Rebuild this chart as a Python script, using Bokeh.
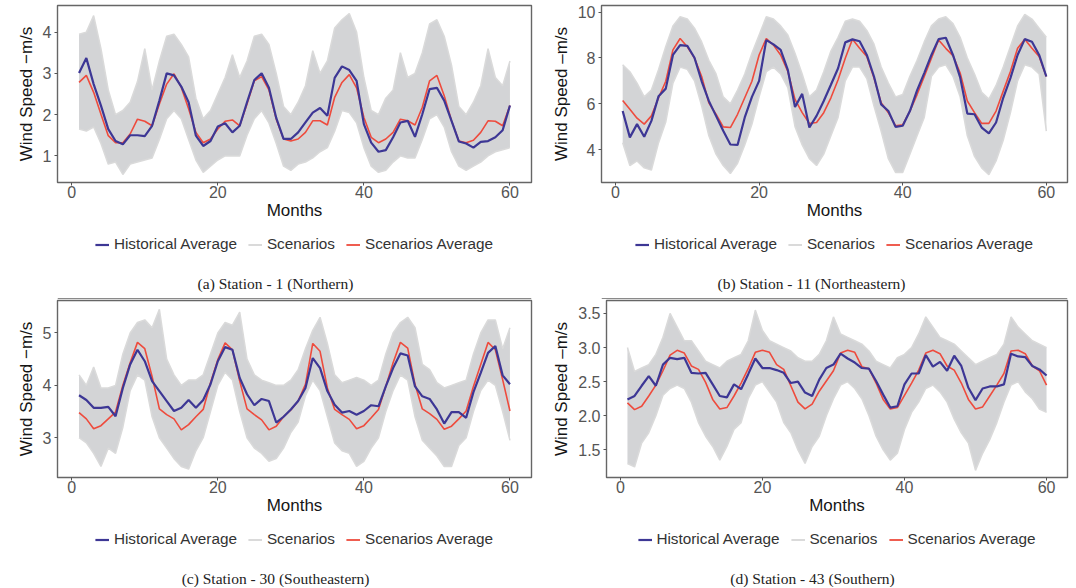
from bokeh.plotting import figure
from bokeh.models import (ColumnDataSource, Legend, LegendItem, Label, FixedTicker,
                          Range1d, Span, NumeralTickFormatter)
from bokeh.layouts import column, row
from bokeh.embed import file_html
from bokeh.resources import INLINE

months = list(range(1, 61))
x_ticks = [0, 20, 40, 60]

# ---- (a) Station 1 ----
hist_a = [3.01, 3.37, 2.74, 2.22, 1.65, 1.36, 1.28, 1.50, 1.50, 1.48,
          1.73, 2.34, 3.00, 2.95, 2.68, 2.30, 1.49, 1.24, 1.36, 1.71,
          1.79, 1.57, 1.73, 2.30, 2.84, 3.00, 2.65, 1.92, 1.41, 1.41,
          1.57, 1.81, 2.05, 2.16, 1.97, 2.89, 3.17, 3.08, 2.82, 1.77,
          1.32, 1.10, 1.14, 1.45, 1.81, 1.85, 1.46, 2.01, 2.62, 2.65,
          2.34, 1.85, 1.35, 1.30, 1.20, 1.34, 1.36, 1.45, 1.62, 2.22]
avg_a = [2.78, 2.95, 2.54, 2.01, 1.49, 1.32, 1.32, 1.53, 1.89, 1.84,
         1.73, 2.26, 2.74, 2.99, 2.66, 2.14, 1.57, 1.32, 1.41, 1.65,
         1.84, 1.87, 1.73, 2.26, 2.82, 2.92, 2.60, 1.89, 1.41, 1.36,
         1.41, 1.57, 1.85, 1.85, 1.75, 2.42, 2.78, 2.97, 2.65, 1.93,
         1.45, 1.32, 1.41, 1.57, 1.89, 1.85, 1.75, 2.18, 2.82, 2.95,
         2.46, 1.85, 1.36, 1.32, 1.38, 1.57, 1.85, 1.84, 1.73, 2.22]
upper_a = [3.95, 4.0, 4.4, 3.6, 2.6, 2.0, 2.1, 2.3, 2.8, 3.6,
           2.6, 3.3, 3.9, 3.95, 3.7, 3.4, 2.4, 1.9, 2.1, 2.5,
           2.9, 3.45, 2.9, 3.3, 3.9, 3.95, 3.7, 3.0, 2.2, 2.0,
           2.3, 2.7, 3.55, 3.0, 3.3, 4.1, 4.3, 4.45, 4.0, 2.9,
           2.1, 2.0, 2.4, 2.6, 3.5, 2.9, 3.0, 3.5, 4.2, 4.3,
           3.9, 3.2, 2.2, 2.0, 2.3, 2.7, 3.6, 2.9, 2.7, 3.3]
lower_a = [1.65, 1.6, 1.7, 1.3, 0.8, 0.85, 0.55, 0.8, 0.85, 0.9,
           0.95, 1.4, 1.9, 2.1, 1.9, 1.4, 0.9, 0.6, 0.75, 0.9,
           1.0, 1.0, 1.0, 1.5, 1.9, 2.1, 1.8, 1.3, 0.75, 0.65,
           0.8, 0.85, 0.95, 1.1, 1.2, 1.6, 2.1, 2.05, 1.8, 1.2,
           0.75, 0.6, 0.65, 0.85, 1.0, 0.95, 0.95, 1.4, 1.9, 2.0,
           1.7, 1.1, 0.75, 0.65, 0.75, 0.85, 1.0, 1.1, 1.15, 1.2]
y_ticks_a = [1, 2, 3, 4]

# ---- (b) Station 11 ----
hist_b = [5.68, 4.53, 5.11, 4.56, 5.25, 6.33, 6.66, 8.13, 8.56, 8.53,
          8.01, 6.98, 6.12, 5.47, 4.82, 4.22, 4.20, 5.40, 6.30, 7.00,
          8.78, 8.59, 8.35, 7.48, 5.86, 6.43, 4.96, 5.47, 6.12, 6.83,
          7.55, 8.68, 8.81, 8.73, 8.13, 7.19, 5.97, 5.68, 4.99, 5.04,
          5.68, 6.58, 7.34, 8.13, 8.82, 8.88, 8.13, 7.15, 5.57, 5.54,
          4.96, 4.71, 5.18, 6.26, 7.12, 8.13, 8.82, 8.71, 8.13, 7.19]
avg_b = [6.14, 5.76, 5.37, 5.11, 5.47, 6.26, 6.98, 8.35, 8.85, 8.49,
         7.99, 7.19, 6.04, 5.54, 4.99, 4.96, 5.54, 6.26, 6.98, 8.13,
         8.85, 8.56, 8.13, 7.41, 6.19, 5.61, 5.14, 5.18, 5.61, 6.26,
         7.05, 7.99, 8.82, 8.42, 8.06, 7.12, 6.04, 5.61, 5.04, 5.08,
         5.68, 6.40, 7.19, 7.99, 8.78, 8.42, 8.10, 7.34, 6.12, 5.61,
         5.14, 5.14, 5.68, 6.55, 7.41, 8.42, 8.82, 8.42, 8.06, 7.19]
upper_b = [7.7, 7.4, 6.9, 6.3, 6.6, 7.5, 8.5, 9.4, 9.8, 9.7,
           9.3, 8.7, 7.9, 7.3, 6.3, 6.0, 6.6, 7.3, 8.2, 9.0,
           9.8, 9.7, 9.4, 9.0, 8.2, 7.3, 6.3, 6.6, 7.4, 8.3,
           8.9, 9.6, 9.7, 9.6, 9.2, 8.6, 7.6, 6.9, 6.3, 6.4,
           7.2, 7.9, 8.7, 9.4, 9.7, 9.8, 9.5, 8.9, 8.0, 7.3,
           6.5, 6.2, 6.8, 7.6, 8.5, 9.4, 9.9, 9.7, 9.3, 8.9]
lower_b = [4.3, 3.3, 3.5, 3.2, 3.1, 4.3, 5.2, 6.9, 7.6, 7.5,
           7.0, 5.9, 4.6, 3.8, 3.3, 2.95, 3.4, 4.2, 5.1, 6.3,
           7.4, 7.6, 7.3, 6.7, 5.0, 4.2, 3.6, 3.3, 3.8, 4.6,
           5.4, 7.0, 7.6, 7.6, 7.1, 5.9, 4.8, 3.6, 3.0, 3.0,
           3.8, 4.6, 5.4, 7.2, 7.6, 7.7, 7.2, 6.3, 4.6, 3.7,
           3.2, 2.9, 3.5, 4.4, 5.6, 7.0, 7.7, 7.6, 7.3, 4.8]
y_ticks_b = [4, 6, 8, 10]

# ---- (c) Station 30 ----
hist_c = [3.81, 3.72, 3.57, 3.57, 3.59, 3.41, 3.95, 4.40, 4.68, 4.46,
          4.08, 3.89, 3.70, 3.51, 3.57, 3.72, 3.57, 3.72, 4.02, 4.46,
          4.73, 4.68, 4.14, 3.83, 3.62, 3.74, 3.70, 3.29, 3.40, 3.54,
          3.70, 3.95, 4.52, 4.33, 3.89, 3.63, 3.48, 3.51, 3.44, 3.51,
          3.62, 3.60, 3.98, 4.33, 4.61, 4.57, 3.98, 3.79, 3.74, 3.54,
          3.27, 3.49, 3.49, 3.38, 3.87, 4.24, 4.62, 4.75, 4.19, 4.02]
avg_c = [3.48, 3.36, 3.17, 3.23, 3.36, 3.49, 4.00, 4.43, 4.82, 4.70,
         4.17, 3.55, 3.44, 3.36, 3.15, 3.25, 3.40, 3.54, 4.05, 4.49,
         4.81, 4.68, 4.08, 3.55, 3.44, 3.34, 3.15, 3.22, 3.40, 3.53,
         3.70, 4.02, 4.80, 4.65, 3.95, 3.54, 3.44, 3.35, 3.17, 3.23,
         3.38, 3.54, 3.98, 4.43, 4.82, 4.71, 4.02, 3.55, 3.46, 3.35,
         3.16, 3.22, 3.36, 3.51, 3.98, 4.40, 4.82, 4.68, 4.11, 3.51]
upper_c = [4.2, 4.0, 4.35, 3.95, 3.95, 4.0, 4.6, 5.0, 5.2, 5.25,
           5.1, 5.45, 4.5, 4.2, 4.0, 4.1, 4.1, 4.2, 4.6, 5.0,
           5.2, 5.15, 5.4, 4.5, 4.2, 4.1, 4.05, 4.0, 4.0, 4.1,
           4.3, 4.7, 5.05, 5.3, 4.8, 4.2, 4.05, 4.1, 4.15, 4.1,
           4.0, 4.1, 4.6, 5.0, 5.2, 5.3, 5.1, 4.4, 4.3, 4.05,
           3.95, 4.0, 4.05, 4.1, 4.6, 5.0, 5.25, 5.25, 4.7, 5.1]
lower_c = [3.0, 2.9, 2.7, 2.45, 2.8, 2.7, 3.2, 3.9, 4.2, 4.1,
           3.4, 3.0, 2.8, 2.6, 2.45, 2.4, 2.75, 3.0, 3.5, 4.0,
           4.25, 4.1, 3.5, 3.0, 2.8, 2.7, 2.55, 2.6, 2.8, 3.1,
           3.3, 3.8, 4.1, 3.9, 3.4, 2.9, 2.75, 2.7, 2.45, 2.55,
           2.8, 3.0, 3.5, 3.9, 4.2, 4.1, 3.4, 2.95, 2.8, 2.65,
           2.45, 2.45, 2.85, 3.0, 3.5, 3.9, 4.1, 4.0, 3.5, 2.95]
y_ticks_c = [3, 4, 5]

# ---- (d) Station 43 ----
hist_d = [2.24, 2.29, 2.44, 2.58, 2.44, 2.75, 2.85, 2.83, 2.85, 2.63,
          2.62, 2.63, 2.46, 2.29, 2.27, 2.46, 2.39, 2.61, 2.84, 2.70,
          2.70, 2.67, 2.63, 2.48, 2.50, 2.34, 2.29, 2.53, 2.70, 2.75,
          2.91, 2.84, 2.78, 2.70, 2.69, 2.51, 2.31, 2.12, 2.14, 2.46,
          2.62, 2.62, 2.89, 2.72, 2.79, 2.66, 2.88, 2.73, 2.41, 2.23,
          2.40, 2.43, 2.43, 2.46, 2.91, 2.87, 2.86, 2.73, 2.68, 2.59]
avg_d = [2.19, 2.09, 2.14, 2.29, 2.45, 2.66, 2.89, 2.96, 2.92, 2.73,
         2.68, 2.49, 2.24, 2.10, 2.12, 2.29, 2.48, 2.69, 2.93, 2.96,
         2.93, 2.75, 2.68, 2.44, 2.20, 2.10, 2.17, 2.36, 2.51, 2.66,
         2.92, 2.96, 2.93, 2.72, 2.69, 2.48, 2.24, 2.10, 2.12, 2.30,
         2.48, 2.67, 2.92, 2.96, 2.91, 2.73, 2.67, 2.48, 2.24, 2.10,
         2.13, 2.29, 2.45, 2.62, 2.95, 2.96, 2.91, 2.73, 2.66, 2.45]
upper_d = [3.0, 2.65, 2.7, 2.75, 2.9, 3.15, 3.5, 3.3, 3.1, 3.1,
           2.95, 2.8, 2.75, 2.7, 2.8, 2.85, 2.9, 3.1, 3.55, 3.25,
           3.1, 3.05, 3.0, 2.95, 2.85, 2.8, 2.8, 2.9, 3.1, 3.45,
           3.2, 3.15, 3.1, 3.05, 2.95, 2.8, 2.75, 2.7, 2.85, 2.9,
           3.0, 3.2, 3.45, 3.3, 3.15, 3.1, 3.05, 2.95, 2.85, 2.75,
           2.8, 2.85, 2.9, 3.05, 3.45, 3.3, 3.2, 3.1, 3.05, 3.0]
lower_d = [1.3, 1.25, 1.6, 1.75, 2.0, 2.3, 2.4, 2.45, 2.4, 2.2,
           1.9, 1.7, 1.55, 1.35, 1.55, 1.8, 1.9, 2.25, 2.45, 2.5,
           2.35, 2.2, 1.9, 1.75, 1.5, 1.3, 1.55, 1.7, 2.0, 2.25,
           2.45, 2.5, 2.4, 2.25, 2.0, 1.7, 1.5, 1.35, 1.45, 1.8,
           2.05, 2.2, 2.4, 2.45, 2.35, 2.2, 1.95, 1.75, 1.6, 1.2,
           1.45, 1.65, 1.9, 2.2, 2.45, 2.5, 2.35, 2.25, 2.1, 2.05]
y_ticks_d = [1.5, 2.0, 2.5, 3.0, 3.5]

legend_labels = ["Historical Average", "Scenarios", "Scenarios Average"]
captions = ["(a) Station - 1 (Northern)", "(b) Station - 11 (Northeastern)",
            "(c) Station - 30 (Southeastern)", "(d) Station - 43 (Southern)"]

BLUE = "#3d3795"
RED = "#ee4b3d"
BAND = "#d3d4d6"
SC_LINE = "#dadada"
SANS = "Liberation Sans"
SERIF = "Liberation Serif"


def make_plot(src, y0, y1, yticks, ylabel, width, height, bl, br, bt, bb, fmt=None):
    p = figure(width=width, height=height, output_backend="svg", toolbar_location=None,
               x_range=Range1d(-1.95, 62.95), y_range=Range1d(y0, y1),
               min_border_left=bl, min_border_right=br, min_border_top=bt, min_border_bottom=bb,
               background_fill_color="white", border_fill_color="white",
               outline_line_color="#666666", outline_line_width=1.4)
    p.varea(x="m", y1="lower", y2="upper", source=src, fill_color=BAND)
    p.line(x="m", y="upper", source=src, line_color=SC_LINE, line_width=1.5)
    p.line(x="m", y="lower", source=src, line_color=SC_LINE, line_width=1.5)
    p.line(x="m", y="avg", source=src, line_color=RED, line_width=1.6)
    p.line(x="m", y="hist", source=src, line_color=BLUE, line_width=2.2)

    p.grid.visible = False
    p.xaxis.ticker = FixedTicker(ticks=x_ticks)
    p.yaxis.ticker = FixedTicker(ticks=yticks)
    if fmt:
        p.yaxis.formatter = NumeralTickFormatter(format=fmt)
    p.xaxis.axis_label = "Months"
    p.yaxis.axis_label = ylabel
    for ax in (p.xaxis[0], p.yaxis[0]):
        ax.axis_line_color = None
        ax.major_tick_in = 0
        ax.major_tick_out = 3
        ax.major_tick_line_color = "#555555"
        ax.minor_tick_line_color = None
        ax.major_label_text_font = SANS
        ax.major_label_text_font_size = "16px"
        ax.major_label_text_color = "#555555"
        ax.axis_label_text_font = SANS
        ax.axis_label_text_font_size = "17px"
        ax.axis_label_text_font_style = "normal"
        ax.axis_label_text_color = "#151515"
    p.xaxis.major_label_standoff = 0
    p.xaxis.axis_label_standoff = 0
    p.yaxis.major_label_standoff = 3
    p.yaxis.axis_label_standoff = 4
    return p


def make_legend_area(src, caption, width, height, bl, br, cap_x, cap_y, leg_margin, sep=False):
    # key area below a panel; its ranges keep the series themselves out of view,
    # so only the legend keys (styled like the panel's lines) and the caption show
    f = figure(width=width, height=height, output_backend="svg", toolbar_location=None,
               x_range=Range1d(-3, -2), y_range=Range1d(-3, -2),
               x_axis_location=None, y_axis_location=None,
               min_border_left=bl, min_border_right=br, min_border_top=0, min_border_bottom=0,
               background_fill_color="white", border_fill_color="white",
               outline_line_color=None)
    f.grid.visible = False
    r_hist = f.line(x="m", y="hist", source=src, line_color=BLUE, line_width=2.2)
    r_sc = f.line(x="m", y="upper", source=src, line_color=SC_LINE, line_width=2)
    r_avg = f.line(x="m", y="avg", source=src, line_color=RED, line_width=1.8)
    legend = Legend(items=[LegendItem(label=legend_labels[0], renderers=[r_hist]),
                           LegendItem(label=legend_labels[1], renderers=[r_sc]),
                           LegendItem(label=legend_labels[2], renderers=[r_avg])],
                    orientation="horizontal", location="top_center",
                    border_line_alpha=0, background_fill_alpha=0,
                    label_text_font=SANS, label_text_font_size="15.3px", label_text_color="#333333",
                    glyph_width=14, glyph_height=17, label_height=17, label_standoff=5,
                    spacing=11, margin=leg_margin, padding=0)
    f.add_layout(legend, "center")
    f.add_layout(Label(x=cap_x, y=cap_y, x_units="screen", y_units="screen",
                       text=caption, text_align="center", text_baseline="middle",
                       text_font=SERIF, text_font_size="15.5px", text_color="#222222"))
    if sep:
        f.add_layout(Span(location=1, location_units="screen", dimension="width",
                          line_color="#8a8a8a", line_width=1))
    return f


src_a = ColumnDataSource(dict(m=months, hist=hist_a, avg=avg_a, upper=upper_a, lower=lower_a))
src_b = ColumnDataSource(dict(m=months, hist=hist_b, avg=avg_b, upper=upper_b, lower=lower_b))
src_c = ColumnDataSource(dict(m=months, hist=hist_c, avg=avg_c, upper=upper_c, lower=lower_c))
src_d = ColumnDataSource(dict(m=months, hist=hist_d, avg=avg_d, upper=upper_d, lower=lower_d))

# top row: plots 0..225, key areas 225..299
pa = make_plot(src_a, 0.355, 4.645, y_ticks_a, "Wind Speed \u2212m/s", 548, 225, 57, 17, 5, 43)
pb = make_plot(src_b, 2.56, 10.29, y_ticks_b, "Wind Speed \u2013m/s", 527, 225, 53, 8, 5, 43)
la = make_legend_area(src_a, captions[0], 548, 74, 57, 17, 218, 16, 10, sep=True)
lb = make_legend_area(src_b, captions[1], 527, 74, 53, 8, 210, 16, 10, sep=True)

# bottom row: plots 299..520, key areas 520..587
pc = make_plot(src_c, 2.24, 5.62, y_ticks_c, "Wind Speed \u2212m/s", 548, 221, 57, 17, 1, 43)
pd = make_plot(src_d, 1.095, 3.69, y_ticks_d, "Wind Speed \u2013m/s", 527, 221, 58, 8, 1, 43, fmt="0.0")
lc = make_legend_area(src_c, captions[2], 548, 67, 57, 17, 218, 9, 10)
ld = make_legend_area(src_d, captions[3], 527, 67, 58, 8, 206, 9, 10)

layout = column(row(pa, pb), row(la, lb), row(pc, pd), row(lc, ld))
open("out.html", "w").write(file_html(layout, INLINE))
